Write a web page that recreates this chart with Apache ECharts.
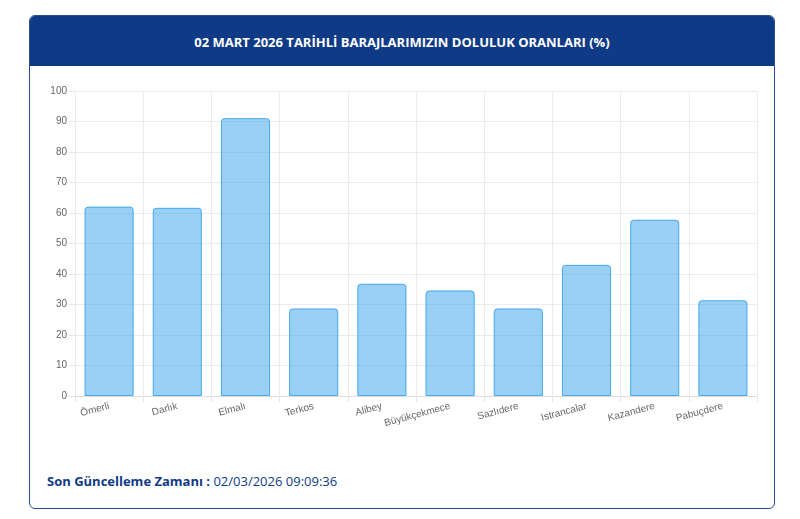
<!DOCTYPE html>
<html>
<head>
<meta charset="utf-8">
<script src="https://cdn.jsdelivr.net/npm/echarts@6/dist/echarts.min.js"></script>
<style>
  body { margin: 0; width: 800px; height: 519px; background: #fff; font-family: "Open Sans", sans-serif; position: relative; overflow: hidden; }
  .card { position: absolute; left: 29px; top: 15px; width: 744px; height: 492px; border: 1px solid #2a4d8f; border-radius: 6px; overflow: hidden; }
  .head { background: #0f3a85; height: 50px; color: #fff; font-weight: bold; font-size: 13px; text-align: center; line-height: 52px; }
  .foot { position: absolute; left: 47px; top: 472px; font-size: 13px; color: #0f3a85; }
  .foot b { font-weight: 700; }
  #main { position: absolute; left: 0; top: 0; width: 800px; height: 519px; }
</style>
</head>
<body>
<div class="card"><div class="head">02 MART 2026 TARİHLİ BARAJLARIMIZIN DOLULUK ORANLARI (%)</div></div>
<div class="foot"><b>Son Güncelleme Zamanı :</b> 02/03/2026 09:09:36</div>
<div id="main"></div>
<script>
// baraj isimleri ve doluluk oranları
const barajlar = ['Ömerli', 'Darlık', 'Elmalı', 'Terkos', 'Alibey', 'Büyükçekmece', 'Sazlıdere', 'Istrancalar', 'Kazandere', 'Pabuçdere'];
const oranlar = [62.1, 61.7, 91.1, 28.7, 36.8, 34.6, 28.7, 43.0, 57.8, 31.4];

const myChart = echarts.init(document.getElementById('main'));
const option = {
    animation: false,
    grid: { left: 75, right: 43, top: 91, bottom: 123 },
    xAxis: {
        type: 'category',
        data: barajlar,
        boundaryGap: true,
        axisLine: { lineStyle: { color: '#ddd' } },
        axisTick: { show: true, alignWithLabel: false, length: 6, lineStyle: { color: '#e5e5e5' } },
        splitLine: { show: true, lineStyle: { color: '#ececec' } },
        axisLabel: { rotate: 15, color: '#666', fontSize: 10, fontFamily: 'Liberation Sans', interval: 0, margin: 10 }
    },
    yAxis: {
        type: 'value',
        min: 0, max: 100, interval: 10,
        axisLine: { show: false },
        axisTick: { show: true, length: 6, lineStyle: { color: '#e5e5e5' } },
        splitLine: { lineStyle: { color: '#ececec' } },
        axisLabel: { color: '#666', fontSize: 10, fontFamily: 'Liberation Sans' }
    },
    series: [{
        type: 'bar',
        data: oranlar,
        barCategoryGap: '28%',
        itemStyle: {
            color: 'rgba(54,162,235,0.5)',
            borderColor: 'rgba(54,162,235,0.9)',
            borderWidth: 1,
            borderRadius: [3, 3, 0, 0]
        }
    }]
};
myChart.setOption(option);
</script>
</body>
</html>
